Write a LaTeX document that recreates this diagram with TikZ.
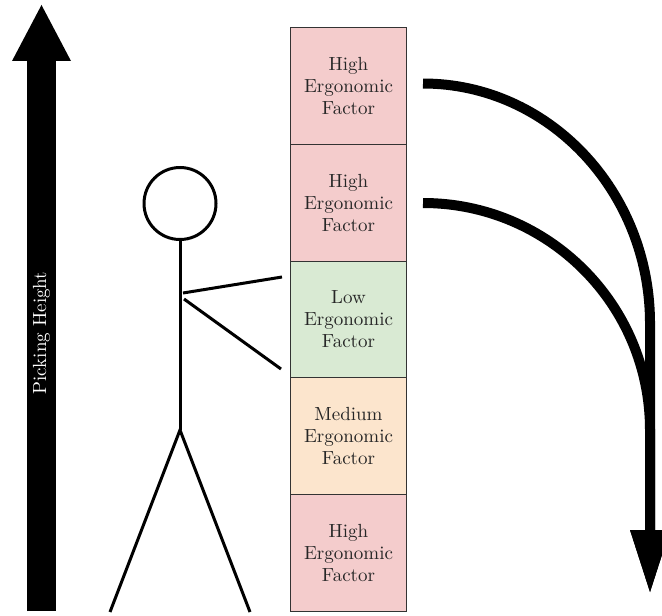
\documentclass[tikz,border=0pt]{standalone}
\usetikzlibrary{arrows.meta}
\definecolor{highfill}{HTML}{F4CCCC}
\definecolor{lowfill}{HTML}{D9EAD3}
\definecolor{medfill}{HTML}{FCE5CD}
\begin{document}
\begin{tikzpicture}[x=0.5pt,y=-0.5pt,
  level/.style={draw=black!80, line width=0.5pt, minimum width=58pt,
    minimum height=58.4pt, inner sep=0pt, align=center, anchor=north west,
    font=\fontsize{9.5}{11}\selectfont, text=black!85},
  body/.style={line width=1.5pt},
  flow/.style={line width=5pt, -{Triangle[width=20pt,length=31pt,line width=0pt]}}]
\useasboundingbox (0,0) rectangle (662,615);

% shelf levels
\node[level, fill=highfill] (b1) at (290,27)    {High\\Ergonomic\\Factor};
\node[level, fill=highfill] (b2) at (290,143.8) {High\\Ergonomic\\Factor};
\node[level, fill=lowfill]  (b3) at (290,260.6) {Low\\Ergonomic\\Factor};
\node[level, fill=medfill]  (b4) at (290,377.4) {Medium\\Ergonomic\\Factor};
\node[level, fill=highfill] (b5) at (290,494.2) {High\\Ergonomic\\Factor};

% height axis
\coordinate (axisfoot) at (41.5,611);
\coordinate (axistop) at (41.5,5);
\draw[line width=14.5pt, -{Triangle[width=29.5pt,length=28pt,line width=0pt]}]
  (axisfoot) -- (axistop);
\node[rotate=90, text=white, font=\fontsize{9.5}{11}\selectfont] (axislabel)
  at (41.5,333) {Picking Height};

% picker
\coordinate (head) at (180,203.5);
\coordinate (neck) at (180,239.5);
\coordinate (hip) at (180,430);
\coordinate (lfoot) at (110,612);
\coordinate (rfoot) at (250,612);
\coordinate (shoulderA) at (183,293);
\coordinate (handA) at (282,277);
\coordinate (shoulderB) at (184,299);
\coordinate (handB) at (281,369);
\draw[body] (head) circle[radius=36];
\draw[body] (neck) -- (hip);
\draw[body] (lfoot) -- (hip) -- (rfoot);
\draw[body] (shoulderA) -- (handA);
\draw[body] (shoulderB) -- (handB);

% downward flow from the high levels
\coordinate (startA) at (423,83.5);
\coordinate (startB) at (423,203);
\coordinate (tip) at (650,592);
\draw[flow] (startA) .. controls (548.4,83.5) and (650,191) .. (650,323.5) -- (tip);
\draw[flow] (startB) .. controls (548.4,203) and (650,304.6) .. (650,430) -- (tip);
\end{tikzpicture}
\end{document}
